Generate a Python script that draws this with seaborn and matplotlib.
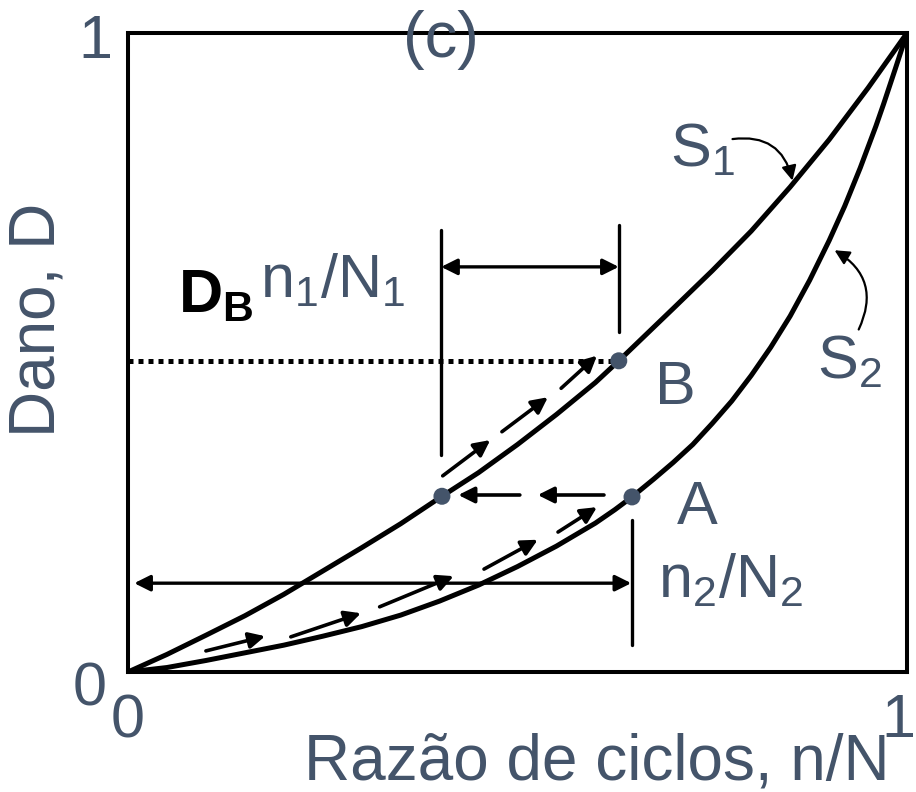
import matplotlib
matplotlib.use("Agg")
import matplotlib.pyplot as plt
import seaborn as sns
import pandas as pd

# ---- data ----
# damage curve S1 (upper) and S2 (lower), damage D against cycle ratio n/N
s1_x = [0.0, 0.05, 0.10, 0.15, 0.20, 0.25, 0.30, 0.35, 0.403, 0.45, 0.50, 0.55,
        0.60, 0.630, 0.70, 0.75, 0.80, 0.85, 0.90, 0.95, 1.0]
s1_y = [0.0, 0.0275, 0.0575, 0.088, 0.1215, 0.158, 0.1945, 0.232, 0.275, 0.312,
        0.356, 0.403, 0.453, 0.487, 0.569, 0.628, 0.690, 0.759, 0.833, 0.914, 1.0]
s2_x = [0.0, 0.05, 0.10, 0.15, 0.20, 0.25, 0.30, 0.35, 0.40, 0.45, 0.50, 0.55,
        0.60, 0.625, 0.647, 0.675, 0.70, 0.725, 0.75, 0.775, 0.80, 0.825, 0.85,
        0.875, 0.90, 0.92, 0.94, 0.96, 0.97, 0.985, 1.0]
s2_y = [0.0, 0.007, 0.018, 0.030, 0.042, 0.056, 0.071, 0.089, 0.111, 0.136,
        0.165, 0.197, 0.233, 0.254, 0.274, 0.302, 0.328, 0.356, 0.389, 0.424,
        0.464, 0.508, 0.557, 0.613, 0.675, 0.729, 0.789, 0.854, 0.889, 0.944, 1.0]

# states: A on S2, the equal-damage point on S1, and B on S1
point_names = ["A", "C", "B"]
point_x = [0.647, 0.403, 0.630]
point_y = [0.274, 0.275, 0.487]
damage_b = 0.487

# loading path segments (start x, start y, end x, end y)
path_s2 = [(0.100, 0.033, 0.176, 0.056), (0.209, 0.055, 0.299, 0.092),
           (0.323, 0.102, 0.418, 0.150), (0.457, 0.161, 0.526, 0.207),
           (0.552, 0.219, 0.602, 0.258)]
path_jump = [(0.611, 0.277, 0.526, 0.277), (0.503, 0.277, 0.424, 0.277)]
path_s1 = [(0.404, 0.307, 0.465, 0.363), (0.480, 0.376, 0.539, 0.430),
           (0.556, 0.444, 0.602, 0.495)]

TXT = "#44546A"

sns.set_theme(style="white")
plt.rcParams["font.family"] = ["Liberation Sans", "DejaVu Sans"]
plt.rcParams["mathtext.fontset"] = "custom"
plt.rcParams["mathtext.rm"] = "Liberation Sans"
plt.rcParams["mathtext.bf"] = "Liberation Sans:bold"

fig = plt.figure(figsize=(9.16, 7.92), dpi=100)
ax = fig.add_axes([128 / 916, 120 / 792, 779 / 916, 639 / 792])

curves = pd.concat([
    pd.DataFrame({"x": s1_x, "y": s1_y, "curve": "S1"}),
    pd.DataFrame({"x": s2_x, "y": s2_y, "curve": "S2"}),
])
sns.lineplot(data=curves, x="x", y="y", units="curve", estimator=None, sort=False,
             color="black", lw=3.6, ax=ax, legend=False)
for ln in ax.lines:
    ln.set_solid_joinstyle("round")

# dotted level of damage at B
ax.plot([0, point_x[2]], [damage_b, damage_b], color="black", lw=3.6,
        linestyle=(0, (1, 1)), dash_capstyle="butt")

# path arrows
for seg in path_s2 + path_jump + path_s1:
    ax.annotate("", xy=(seg[2], seg[3]), xytext=(seg[0], seg[1]),
                arrowprops=dict(arrowstyle="-|>", lw=2.6, color="black",
                                mutation_scale=24, shrinkA=0, shrinkB=0))

pts = pd.DataFrame({"x": point_x, "y": point_y, "name": point_names})
sns.scatterplot(data=pts, x="x", y="y", s=150, color=TXT, edgecolor="none",
                ax=ax, zorder=5, legend=False)

# dimension lines for n1/N1
ax.plot([0.402, 0.402], [0.340, 0.692], color="black", lw=2.4)
ax.plot([0.630, 0.630], [0.532, 0.700], color="black", lw=2.4)
ax.annotate("", xy=(0.630, 0.634), xytext=(0.402, 0.634),
            arrowprops=dict(arrowstyle="<|-|>", lw=2.4, color="black",
                            mutation_scale=24, shrinkA=0, shrinkB=0))
# dimension lines for n2/N2
ax.plot([0.647, 0.647], [0.042, 0.238], color="black", lw=2.4)
ax.annotate("", xy=(0.646, 0.139), xytext=(0.008, 0.139),
            arrowprops=dict(arrowstyle="<|-|>", lw=2.4, color="black",
                            mutation_scale=24, shrinkA=0, shrinkB=0))

# curve labels with leader arrows
fs = 44
ax.text(0.696, 0.792, r"S$_{\mathrm{1}}$", fontsize=fs, color=TXT, va="baseline")
ax.annotate("", xy=(0.853, 0.769), xytext=(0.776, 0.834),
            arrowprops=dict(arrowstyle="-|>", lw=1.6, color="black",
                            mutation_scale=22, shrinkA=0, shrinkB=0,
                            connectionstyle="arc3,rad=-0.45"))
ax.text(0.884, 0.460, r"S$_{\mathrm{2}}$", fontsize=fs, color=TXT, va="baseline")
ax.annotate("", xy=(0.907, 0.660), xytext=(0.938, 0.536),
            arrowprops=dict(arrowstyle="-|>", lw=1.6, color="black",
                            mutation_scale=22, shrinkA=0, shrinkB=0,
                            connectionstyle="arc3,rad=0.45"))

ax.text(0.676, 0.419, "B", fontsize=fs, color=TXT, va="baseline")
ax.text(0.705, 0.232, "A", fontsize=fs, color=TXT, va="baseline")
ax.text(0.680, 0.117, r"n$_{\mathrm{2}}$/N$_{\mathrm{2}}$", fontsize=fs, color=TXT, va="baseline")
ax.text(0.169, 0.587, r"n$_{\mathrm{1}}$/N$_{\mathrm{1}}$", fontsize=fs, color=TXT, va="baseline")
ax.text(0.064, 0.562, r"$\mathbf{D_B}$", fontsize=fs, color="black", va="baseline")
ax.text(0.402, 0.989, "(c)", fontsize=47, color=TXT, ha="center", va="center", clip_on=False)

# axis limits, end values and titles
ax.set_xlim(0, 1)
ax.set_ylim(0, 1)
ax.set_xticks([])
ax.set_yticks([])
ax.set_xlabel("")
ax.set_ylabel("")
for sp in ax.spines.values():
    sp.set_visible(True)
    sp.set_color("black")
    sp.set_linewidth(2.9)

ax.text(-0.042, 0.985, "1", fontsize=fs, color=TXT, ha="center", va="center", clip_on=False)
ax.text(-0.049, -0.028, "0", fontsize=fs, color=TXT, ha="center", va="center", clip_on=False)
ax.text(0.0, -0.078, "0", fontsize=fs, color=TXT, ha="center", va="center", clip_on=False)
ax.text(1.0103, -0.078, "1", fontsize=fs, color=TXT, ha="right", va="center", clip_on=False)
fig.text(38 / 916, 1 - 320 / 792, "Dano, D", fontsize=46, color=TXT, rotation=90,
         ha="center", va="center")
fig.text(597 / 916, 1 - 763 / 792, "Razão de ciclos, n/N", fontsize=46, color=TXT,
         ha="center", va="center")

fig.savefig("out.png", dpi=100, facecolor="white")
